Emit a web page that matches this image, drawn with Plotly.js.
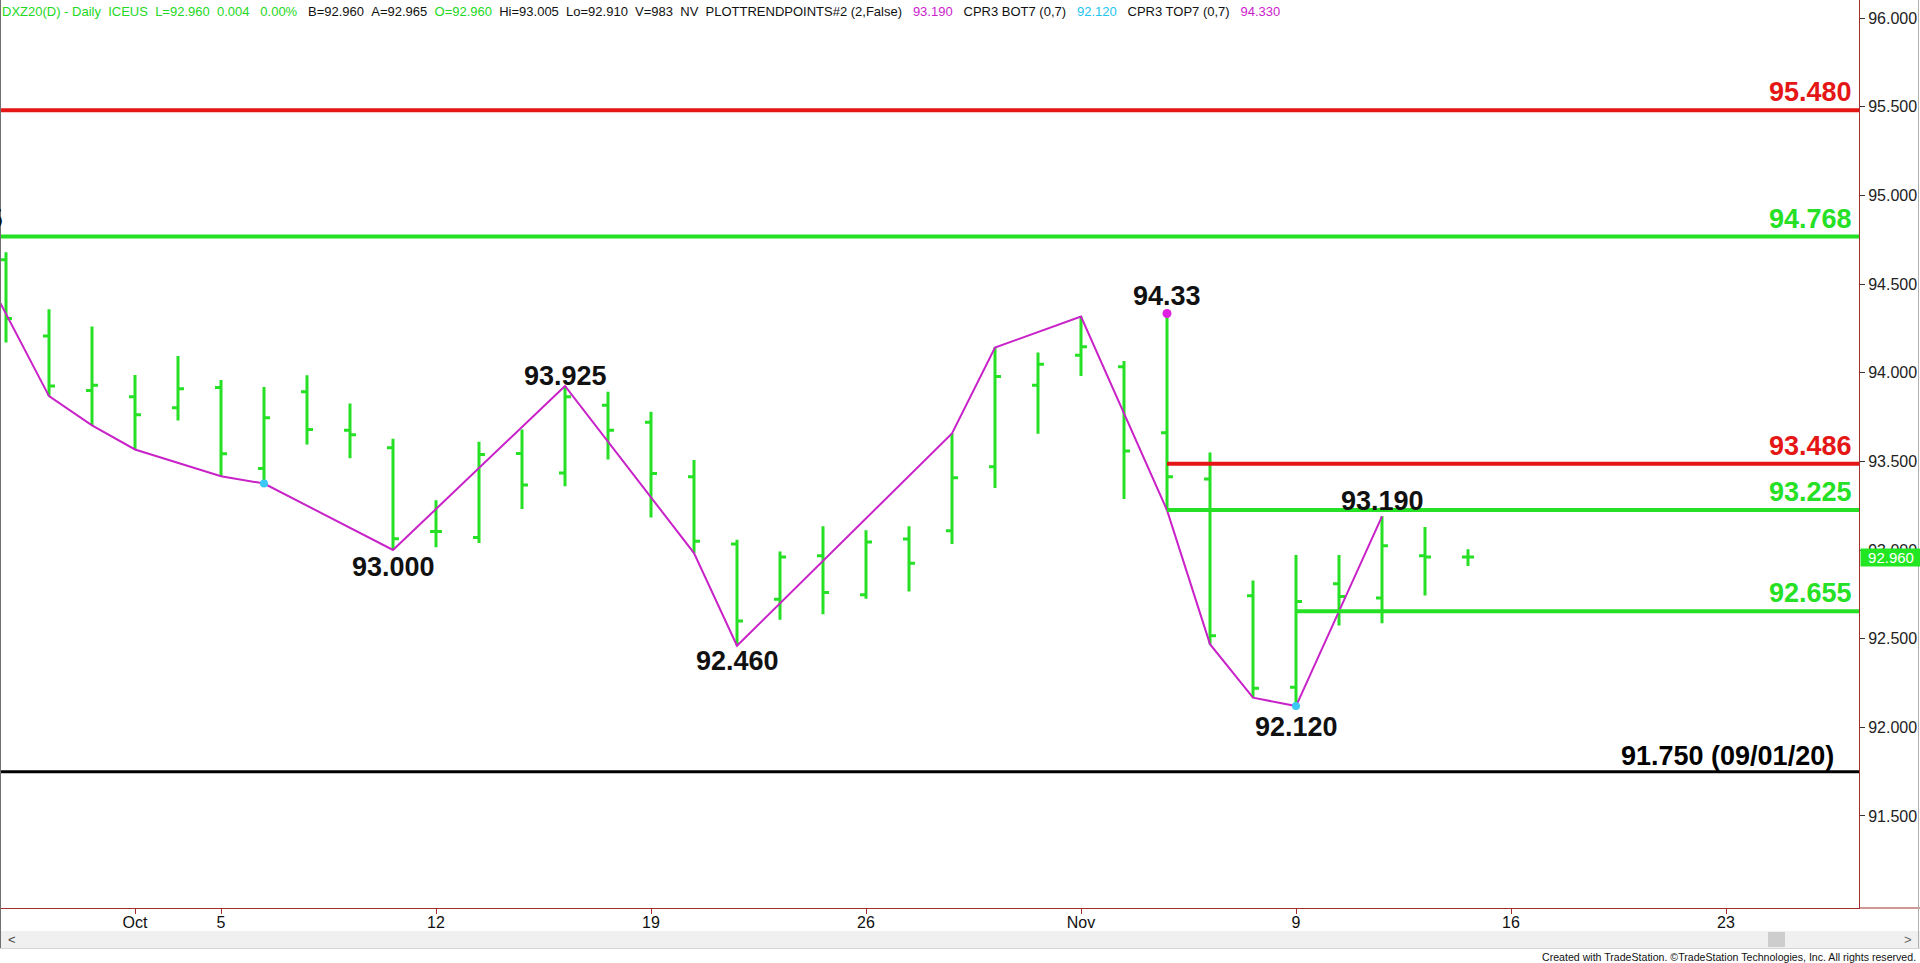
<!DOCTYPE html>
<html>
<head>
<meta charset="utf-8">
<script src="https://cdn.plot.ly/plotly-3.0.1.min.js"></script>
<style>
html,body{margin:0;padding:0;background:#ffffff;overflow:hidden}
#chart{width:1920px;height:963px}
</style>
</head>
<body>
<div id="chart"></div>
<script>
// ---- data ----
const dates = ["2020-09-28","2020-09-29","2020-09-30","2020-10-01","2020-10-02","2020-10-05","2020-10-06","2020-10-07","2020-10-08","2020-10-09",
               "2020-10-12","2020-10-13","2020-10-14","2020-10-15","2020-10-16","2020-10-19","2020-10-20","2020-10-21","2020-10-22","2020-10-23",
               "2020-10-26","2020-10-27","2020-10-28","2020-10-29","2020-10-30","2020-11-02","2020-11-03","2020-11-04","2020-11-05","2020-11-06",
               "2020-11-09","2020-11-10","2020-11-11","2020-11-12","2020-11-13"];
const opens  = [94.637,94.207,93.900,93.865,93.803,93.916,93.460,93.893,93.676,93.577,
                93.105,93.071,93.544,93.435,93.816,93.721,93.413,93.034,92.723,92.968,
                92.747,93.062,93.109,93.469,93.929,94.098,94.034,93.661,93.401,92.742,
                92.226,92.810,92.729,92.968,92.960];
const highs  = [94.679,94.358,94.261,93.987,94.094,93.959,93.919,93.985,93.827,93.627,
                93.281,93.610,93.680,93.925,93.893,93.780,93.507,93.058,92.992,93.134,
                93.111,93.134,93.657,94.142,94.114,94.317,94.066,94.334,93.550,92.828,
                92.972,92.972,93.190,93.130,93.005];
const lows   = [94.170,93.868,93.703,93.567,93.731,93.416,93.375,93.595,93.518,93.000,
                93.015,93.040,93.232,93.360,93.510,93.184,92.983,92.460,92.606,92.638,
                92.725,92.766,93.034,93.350,93.656,93.981,93.288,93.225,92.469,92.167,
                92.120,92.574,92.587,92.744,92.910];
const closes = [94.306,93.925,93.929,93.763,93.910,93.543,93.746,93.680,93.650,93.064,
                93.105,93.539,93.367,93.865,93.676,93.431,93.049,92.599,92.960,92.760,
                93.045,92.926,93.407,93.978,94.048,94.147,93.558,93.413,92.516,92.220,
                92.710,92.738,93.024,92.960,92.960];

// PlotTrendPoints zig-zag
const zzDates  = ["2020-09-25","2020-09-29","2020-09-30","2020-10-01","2020-10-05","2020-10-06","2020-10-09","2020-10-15","2020-10-20",
                  "2020-10-21","2020-10-28","2020-10-29","2020-11-02","2020-11-04","2020-11-05","2020-11-06","2020-11-09","2020-11-11"];
const zzValues = [94.795,93.868,93.703,93.567,93.416,93.375,93.000,93.925,92.983,
                  92.460,93.657,94.142,94.317,93.225,92.469,92.167,92.120,93.190];

// swing labels
const swingDates  = ["2020-10-15","2020-10-09","2020-10-21","2020-11-04","2020-11-09","2020-11-11"];
const swingValues = [93.925,93.000,92.460,94.334,92.120,93.190];
const swingTexts  = ["93.925","93.000","92.460","94.33","92.120","93.190"];
const swingAbove  = [true,false,false,true,false,true];
const offLeftLabel = "94.795";

// marker dots
const topDotDates = ["2020-11-04"];
const topDotValues = [94.334];
const botDotDates = ["2020-10-06","2020-11-09"];
const botDotValues = [93.375,92.120];

// horizontal levels
const fullLevels      = [95.480, 94.768, 91.750];
const fullLevelTexts  = ["95.480","94.768","91.750 (09/01/20)"];
const fullLevelColors = ["#e51616","#25e025","#000000"];
const partLevels      = [93.486, 93.225, 92.655];
const partLevelStart  = ["2020-11-04","2020-11-04","2020-11-09"];
const partLevelTexts  = ["93.486","93.225","92.655"];
const partLevelColors = ["#e51616","#25e025","#25e025"];

// axis ticks
const tickDates = ["2020-10-01","2020-10-05","2020-10-12","2020-10-19","2020-10-26","2020-11-02","2020-11-09","2020-11-16","2020-11-23"];
const tickTexts = ["Oct","5","12","19","26","Nov","9","16","23"];
const priceTicks = [91.5, 92.0, 92.5, 93.0, 93.5, 94.0, 94.5, 95.0, 95.5, 96.0];
const lastPrice = 92.960;

// ---- chart ----
const GREEN = "#25e025", MAGENTA = "#c822c8", CYAN = "#3cc8f5", AXIS = "#a23030";
const PW = 1859, PH = 908;
const px = v => v / PW;            // page px -> paper x
const py = v => (PH - v) / PH;     // page px -> paper y

const traces = [
  {type:"ohlc", x:dates, open:opens, high:highs, low:lows, close:closes,
   increasing:{line:{color:GREEN,width:3}}, decreasing:{line:{color:GREEN,width:3}},
   tickwidth:0.14, hoverinfo:"skip", showlegend:false},
  {type:"scatter", mode:"lines", x:zzDates, y:zzValues,
   line:{color:MAGENTA,width:2}, hoverinfo:"skip", showlegend:false},
  {type:"scatter", mode:"markers", x:topDotDates, y:topDotValues,
   marker:{color:"#e020e0",size:9}, hoverinfo:"skip", showlegend:false},
  {type:"scatter", mode:"markers", x:botDotDates, y:botDotValues,
   marker:{color:CYAN,size:8}, hoverinfo:"skip", showlegend:false}
];

const shapes = [];
const annotations = [];
const bigFont = (c) => ({family:"Arial, 'Liberation Sans', sans-serif", size:27, color:c, weight:"bold"});

fullLevels.forEach((v,i) => {
  shapes.push({type:"line", xref:"paper", x0:0, x1:1, yref:"y", y0:v, y1:v,
               line:{color:fullLevelColors[i], width: i===2 ? 3 : 4}, layer:"above"});
  annotations.push({xref:"paper", x: i===2 ? px(1836) : px(1854), xanchor:"right",
                    yref:"y", y:v, yanchor:"bottom", yshift: i===2 ? -1 : 1,
                    text:fullLevelTexts[i], showarrow:false, font:bigFont(fullLevelColors[i])});
});
partLevels.forEach((v,i) => {
  shapes.push({type:"line", xref:"x", x0:partLevelStart[i], x1:"2020-12-31", yref:"y", y0:v, y1:v,
               line:{color:partLevelColors[i], width:4}, layer:"above"});
  annotations.push({xref:"paper", x:px(1854), xanchor:"right", yref:"y", y:v, yanchor:"bottom", yshift:1,
                    text:partLevelTexts[i], showarrow:false, font:bigFont(partLevelColors[i])});
});

const swingShift = {"93.925":-7, "93.000":0, "92.460":2, "94.33":0, "92.120":-4, "93.190":-2};
swingDates.forEach((d,i) => {
  annotations.push({xref:"x", x:d, yref:"y", y:swingValues[i],
                    yanchor: swingAbove[i] ? "bottom" : "top",
                    yshift: swingShift[swingTexts[i]],
                    text:swingTexts[i], showarrow:false, font:bigFont("#111111")});
});
// label of the swing high just left of the visible window (cut by the edge)
annotations.push({xref:"paper", x:0, xanchor:"right", xshift:5, yref:"y", y:zzValues[0], yanchor:"bottom", yshift:-4,
                  text:offLeftLabel, showarrow:false, font:bigFont("#111111")});

// header line
const G = (t) => `<span style="color:#22d822">${t}</span>`;
const M = (t) => `<span style="color:#cc22cc">${t}</span>`;
const C = (t) => `<span style="color:#22c4ee">${t}</span>`;
const sp = "&nbsp;";
const header = G(`DXZ20(D) - Daily${sp}${sp}ICEUS${sp}${sp}L=92.960${sp}${sp}0.004${sp}${sp}${sp}0.00%`) +
  `${sp}${sp}${sp}B=92.960${sp}${sp}A=92.965${sp}${sp}` + G("O=92.960") +
  `${sp}${sp}Hi=93.005${sp}${sp}Lo=92.910${sp}${sp}V=983${sp}${sp}NV${sp}${sp}PLOTTRENDPOINTS#2 (2,False)${sp}${sp}${sp}` +
  M("93.190") + `${sp}${sp}${sp}CPR3 BOT7 (0,7)${sp}${sp}${sp}` + C("92.120") +
  `${sp}${sp}${sp}CPR3 TOP7 (0,7)${sp}${sp}${sp}` + M("94.330");
annotations.push({xref:"paper", x:0, xanchor:"left", yref:"paper", y:1, yanchor:"top", yshift:-2,
                  text:header, showarrow:false, align:"left",
                  font:{family:"Arial, 'Liberation Sans', sans-serif", size:13, color:"#111111"}});

// last price box
annotations.push({xref:"paper", x:px(1860), xanchor:"left", yref:"y", y:lastPrice, yanchor:"middle",
                  text:lastPrice.toFixed(3), showarrow:false, bgcolor:"#22e622", width:58, height:15, borderpad:1,
                  font:{family:"Arial, 'Liberation Sans', sans-serif", size:15, color:"#ffffff"}});

// scrollbar + frame
shapes.push({type:"rect", xref:"paper", yref:"paper", x0:0, x1:px(1920), y0:py(948), y1:py(931),
             fillcolor:"#f0f0f0", line:{width:0}, layer:"below"});
shapes.push({type:"rect", xref:"paper", yref:"paper", x0:px(1768), x1:px(1785), y0:py(947), y1:py(932),
             fillcolor:"#cdcdcd", line:{width:0}});
shapes.push({type:"line", xref:"paper", yref:"paper", x0:0, x1:px(1920), y0:py(948.5), y1:py(948.5),
             line:{color:"#d4d4d4", width:1}});
shapes.push({type:"line", xref:"paper", yref:"paper", x0:1, x1:px(1920), y0:0, y1:0,
             line:{color:AXIS, width:1}});
shapes.push({type:"line", xref:"paper", yref:"paper", x0:px(0.5), x1:px(0.5), y0:py(948), y1:1,
             line:{color:"#707070", width:1}});
shapes.push({type:"line", xref:"paper", yref:"paper", x0:px(1918.5), x1:px(1918.5), y0:py(948), y1:1,
             line:{color:"#b0b0b0", width:1}});
annotations.push({xref:"paper", x:px(6), xanchor:"left", yref:"paper", y:py(939.5), yanchor:"middle",
                  text:"&lt;", showarrow:false, font:{family:"Arial", size:13, color:"#444"}});
annotations.push({xref:"paper", x:px(1914), xanchor:"right", yref:"paper", y:py(939.5), yanchor:"middle",
                  text:"&gt;", showarrow:false, font:{family:"Arial", size:13, color:"#666"}});
annotations.push({xref:"paper", x:px(1918), xanchor:"right", yref:"paper", y:py(956.5), yanchor:"middle",
                  text:"Created with TradeStation. ©TradeStation Technologies, Inc. All rights reserved.",
                  showarrow:false, font:{family:"Arial, 'Liberation Sans', sans-serif", size:10.6, color:"#111"}});

const layout = {
  width:1920, height:963,
  margin:{l:0, r:61, t:0, b:55, pad:0},
  paper_bgcolor:"#ffffff", plot_bgcolor:"#ffffff",
  showlegend:false,
  font:{family:"Arial, 'Liberation Sans', sans-serif", color:"#111"},
  xaxis:{
    type:"date",
    range:["2020-09-25 20:39","2020-11-26 02:14"],
    rangebreaks:[{bounds:["sat","mon"]}],
    rangeslider:{visible:false},
    showgrid:false, zeroline:false,
    showline:true, linecolor:AXIS, linewidth:1,
    ticks:"outside", ticklen:5, tickcolor:AXIS, tickwidth:1,
    ticklabelstandoff:-5,
    tickmode:"array", tickvals:tickDates, ticktext:tickTexts,
    tickfont:{size:16, color:"#111"}
  },
  yaxis:{
    side:"right",
    range:[90.981, 96.102],
    showgrid:false, zeroline:false,
    showline:true, linecolor:AXIS, linewidth:1,
    ticks:"outside", ticklen:5, tickcolor:"#333", tickwidth:1,
    tickmode:"array", tickvals:priceTicks, tickformat:".3f",
    tickfont:{size:16, color:"#222"}
  },
  shapes:shapes,
  annotations:annotations
};

Plotly.newPlot("chart", traces, layout, {staticPlot:true, displayModeBar:false});
</script>
</body>
</html>
